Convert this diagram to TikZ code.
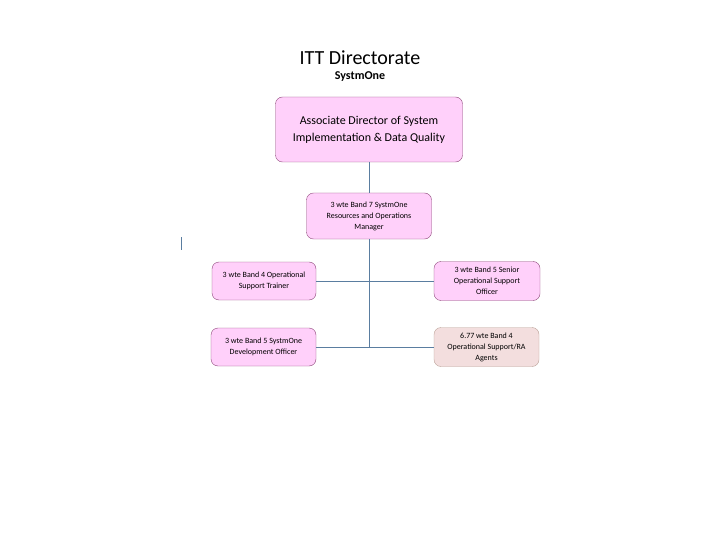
\documentclass[tikz,border=0pt]{standalone}
\usepackage{fontspec}
\setmainfont{Carlito}
\usetikzlibrary{positioning}

\definecolor{boxpink}{RGB}{255,208,250}
\definecolor{boxedge}{RGB}{140,70,120}
\definecolor{agentfill}{RGB}{243,222,222}
\definecolor{agentedge}{RGB}{185,160,150}
\definecolor{linkblue}{RGB}{90,125,160}

\begin{document}
\begin{tikzpicture}[
    x=1pt, y=-1pt,
    post/.style={rectangle, rounded corners=7pt, draw=boxedge, fill=boxpink, align=center, font=\fontsize{8}{11}\selectfont, inner sep=2pt},
    link/.style={-, draw=linkblue, thick}
  ]
    \useasboundingbox (0,0) rectangle (720,540);

    % Heading
    \node (title) at (360,58) {\fontsize{20}{24}\selectfont ITT Directorate};
    \node (sub) at (360,77) {\fontsize{12}{15}\selectfont\bfseries SystmOne};

    % Director and manager
    \node[post, minimum width=187pt, minimum height=65pt, font=\fontsize{12}{17}\selectfont] (director) at (369,129.5) {Associate Director of System\\Implementation \& Data Quality};
    \node[post, minimum width=125pt, minimum height=46pt] (manager) at (369,216) {3 wte Band 7 SystmOne\\Resources and Operations\\Manager};

    % Staff on the left
    \node[post, minimum width=104pt, minimum height=38pt] (trainer) at (264,281) {3 wte Band 4 Operational\\Support Trainer};
    \node[post, minimum width=105pt, minimum height=38pt] (developer) at (263.5,347) {3 wte Band 5 SystmOne\\Development Officer};

    % Staff on the right
    \node[post, minimum width=106pt, minimum height=39pt] (senior) at (487,281) {3 wte Band 5 Senior\\Operational Support\\Officer};
    \node[post, draw=agentedge, fill=agentfill, minimum width=105pt, minimum height=39pt] (agents) at (486.5,347) {6.77 wte Band 4\\Operational Support/RA\\Agents};

    % Connections
    \draw[link] (director.south) -- (manager.north);
    \coordinate (foot) at (manager.south |- developer.east);
    \draw[link] (manager.south) -- (foot);
    \draw[link] (trainer.east) -- (senior.west);
    \draw[link] (developer.east) -- (agents.west);

    % Stray mark
    \coordinate (markTop) at (181,237);
    \coordinate (markEnd) at (181,250);
    \draw[link] (markTop) -- (markEnd);
  \end{tikzpicture}
\end{document}
